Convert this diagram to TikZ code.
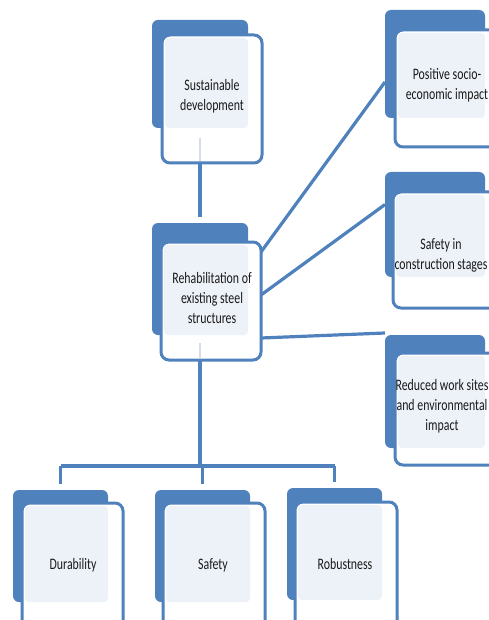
\documentclass[tikz,border=0pt]{standalone}
\usepackage{fontspec}
\setmainfont{Carlito}[FakeStretch=0.74]
\usetikzlibrary{calc,backgrounds}
\definecolor{cblue}{HTML}{4F81BD}
\definecolor{clight}{HTML}{EDF1F8}
\definecolor{ctext}{HTML}{1A1A1A}
\definecolor{cfaint}{HTML}{D6DCE5}
\tikzset{
  backbox/.style={rectangle, fill=cblue, rounded corners=6pt, inner sep=0pt, outer sep=0pt},
  frontbox/.style={rectangle, fill=white, draw=cblue, line width=3pt, rounded corners=8pt, inner sep=0pt, outer sep=0pt},
  lightbox/.style={fill=clight, rounded corners=4pt},
  conn/.style={draw=cblue, line width=3.2pt},
  faint/.style={draw=cfaint, line width=1.5pt, shorten >=1.5pt},
  cardtext/.style={align=center, text=ctext, font=\fontsize{16}{20}\selectfont, inner sep=0pt},
}
\newcommand\mycard[9]{%
  \node[backbox, minimum width={(#4-(#2))*1pt}, minimum height={(#5-(#3))*1pt}] (#1b) at ({(#2+#4)/2},{(#3+#5)/2}) {};
  \node[frontbox, minimum width={(#8-(#6))*1pt}, minimum height={(#9-(#7))*1pt}] (#1f) at ({(#6+#8)/2},{(#7+#9)/2}) {};
  \path[lightbox] ($(#1f.north west)+(3,3)$) rectangle (#1b.south east);
}
\begin{document}
\begin{tikzpicture}[x=1pt,y=-1pt]
\useasboundingbox (0,0) rectangle (489,620);
\clip (0,0) rectangle (489,620);

\mycard{S}{152}{20}{248}{128}{162}{35}{262}{163}
\mycard{R}{152}{223}{248}{335}{161}{242}{261}{360}
\mycard{P}{385}{10}{485}{118}{395}{30}{500}{147}
\mycard{C}{385}{172}{485}{277}{393}{192}{500}{308}
\mycard{W}{385}{335}{485}{448}{395}{353}{500}{465}
\mycard{Du}{13}{490}{108}{602}{22}{503}{123}{630}
\mycard{Sa}{155}{490}{250}{602}{163}{503}{265}{630}
\mycard{Ro}{287}{488}{382}{600}{295}{502}{397}{630}

\node[cardtext] (St) at (212,96) {Sustainable\\development};
\node[cardtext] (Rt) at (212,298) {Rehabilitation of\\existing steel\\structures};
\node[cardtext] (Pt) at (447,85) {Positive socio-\\economic impact};
\node[cardtext] (Ct) at (441,255) {Safety in\\construction stages};
\node[cardtext] (Wt) at (442,406) {Reduced work sites\\and environmental\\impact};
\node[cardtext] (Dut) at (73,565) {Durability};
\node[cardtext] (Sat) at (213,565) {Safety};
\node[cardtext] (Rot) at (345,564) {Robustness};

\draw[faint] ($(Sb.south)+(0,10)$) -- (Sf.south -| Sb.south);
\draw[faint] ($(Rb.south)+(0,8)$) -- (Rf.south -| Rb.south);

\begin{scope}[on background layer]
  \fill[white] (0,0) rectangle (489,620);
  \draw[conn, shorten >=6pt] (Sf.south -| Sb.south) -- (Rb.north);
  \coordinate (bus) at (200,466);
  \draw[conn] (Rf.south -| Rb.south) -- (bus);
  \draw[conn] (Dub.north |- bus) -- (Rob.north |- bus);
  \draw[conn, shorten >=6pt] (Dub.north |- bus) -- (Dub.north);
  \draw[conn, shorten >=6pt] (Sab.north |- bus) -- (Sab.north);
  \draw[conn, shorten >=6pt] (Rob.north |- bus) -- (Rob.north);
  \draw[conn] ($(Rf.north east)+(0,10)$) -- ($(Pb.west)+(0,18)$);
  \draw[conn] ($(Rf.east)+(0,-6)$) -- ($(Cb.west)+(0,-20)$);
  \draw[conn] ($(Rf.south east)+(0,-22)$) -- ($(Wb.north west)+(0,-2)$);
\end{scope}
\end{tikzpicture}
\end{document}
